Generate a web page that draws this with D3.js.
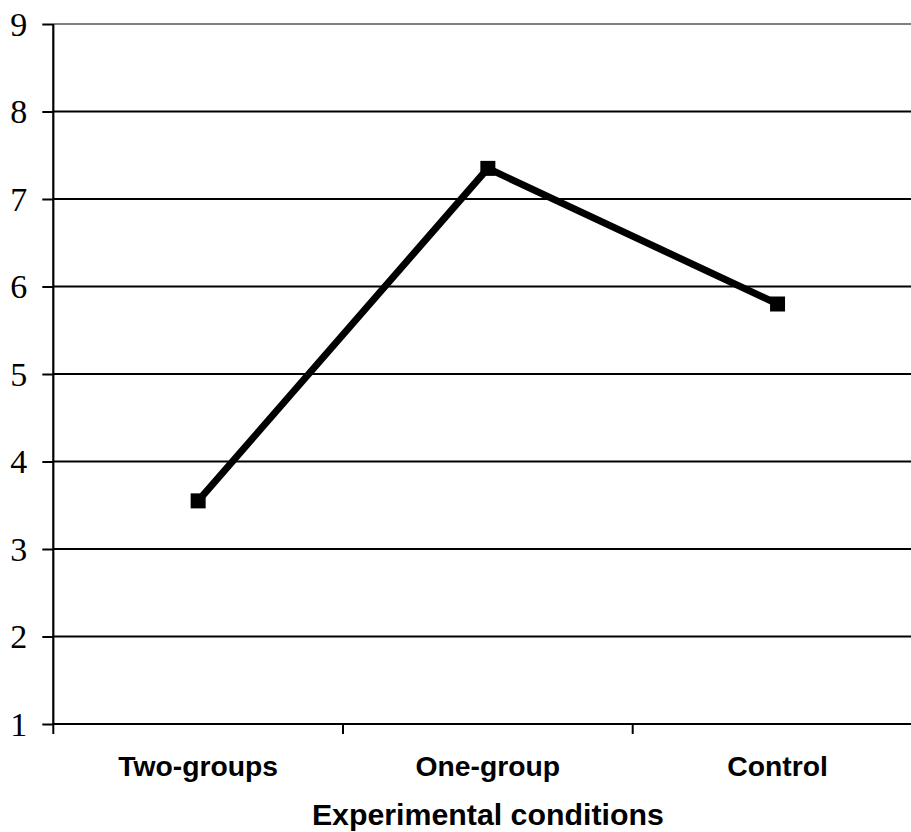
<!DOCTYPE html>
<html>
<head>
<meta charset="utf-8">
<script src="https://cdn.jsdelivr.net/npm/d3@7"></script>
<style>
  html, body { margin: 0; padding: 0; background: #fff; overflow: hidden; }
  svg { display: block; }
</style>
</head>
<body>
<svg id="chart" width="911" height="832"></svg>
<script>
// Mean scores by experimental condition
const categories = ["Two-groups", "One-group", "Control"];
const values = [3.55, 7.35, 5.8];
const yTicks = [1, 2, 3, 4, 5, 6, 7, 8, 9];
const xTitle = "Experimental conditions";

const svg = d3.select("#chart");
const plotLeft = 53.3, plotTop = 24, plotBottom = 724, bandW = 289.7;

const x = d3.scaleBand()
  .domain(categories)
  .range([plotLeft, plotLeft + bandW * categories.length])
  .paddingInner(0).paddingOuter(0);

const y = d3.scaleLinear().domain([1, 9]).range([plotBottom, plotTop]);

// horizontal gridlines
svg.append("g").selectAll("line")
  .data(yTicks.filter(t => t > 1))
  .join("line")
  .attr("x1", plotLeft).attr("x2", 930)
  .attr("y1", d => y(d)).attr("y2", d => y(d))
  .attr("stroke", d => d === 9 ? "#808080" : "#000")
  .attr("stroke-width", 2);

// y axis
const yAxis = svg.append("g")
  .attr("transform", `translate(${plotLeft},0)`)
  .call(d3.axisLeft(y).tickValues(yTicks).tickSize(11).tickPadding(15).tickFormat(d3.format("d")));
yAxis.select(".domain").attr("stroke", "#000").attr("stroke-width", 2.2)
  .attr("d", `M0,${plotTop}V${plotBottom}`);
yAxis.selectAll(".tick line").attr("stroke", "#000").attr("stroke-width", 2);
yAxis.selectAll(".tick text")
  .attr("font-family", "'Liberation Serif', 'Times New Roman', serif")
  .attr("font-size", 34).attr("fill", "#000").attr("dy", "0.33em");

// x axis with ticks at band boundaries
const xAxisG = svg.append("g").attr("transform", `translate(0,${plotBottom})`);
xAxisG.append("line")
  .attr("x1", plotLeft).attr("x2", 930).attr("y1", 0).attr("y2", 0)
  .attr("stroke", "#000").attr("stroke-width", 2.2);
const boundaries = categories.map(c => x(c)).concat([x(categories[categories.length - 1]) + x.bandwidth()]);
xAxisG.selectAll("line.tk")
  .data(boundaries)
  .join("line").attr("class", "tk")
  .attr("x1", d => d).attr("x2", d => d)
  .attr("y1", 0).attr("y2", 10)
  .attr("stroke", "#000").attr("stroke-width", 2);
xAxisG.selectAll("text")
  .data(categories)
  .join("text")
  .attr("x", d => x(d) + x.bandwidth() / 2)
  .attr("y", 52)
  .attr("text-anchor", "middle")
  .attr("font-family", "'Liberation Sans', Arial, sans-serif")
  .attr("font-weight", "bold")
  .attr("font-size", 28.3)
  .attr("fill", "#000")
  .text(d => d);

// axis title
svg.append("text")
  .attr("x", plotLeft + bandW * categories.length / 2)
  .attr("y", 825)
  .attr("text-anchor", "middle")
  .attr("font-family", "'Liberation Sans', Arial, sans-serif")
  .attr("font-weight", "bold")
  .attr("font-size", 30.3)
  .attr("fill", "#000")
  .text(xTitle);

// series line and square markers
const pts = categories.map((c, i) => ({ c, v: values[i] }));
const line = d3.line()
  .x(d => x(d.c) + x.bandwidth() / 2)
  .y(d => y(d.v));

svg.append("path")
  .datum(pts)
  .attr("d", line)
  .attr("fill", "none")
  .attr("stroke", "#000")
  .attr("stroke-width", 7)
  .attr("stroke-linejoin", "miter");

svg.append("g").selectAll("rect")
  .data(pts)
  .join("rect")
  .attr("x", d => x(d.c) + x.bandwidth() / 2 - 7.5)
  .attr("y", d => y(d.v) - 7.5)
  .attr("width", 15).attr("height", 15)
  .attr("fill", "#000");
</script>
</body>
</html>
